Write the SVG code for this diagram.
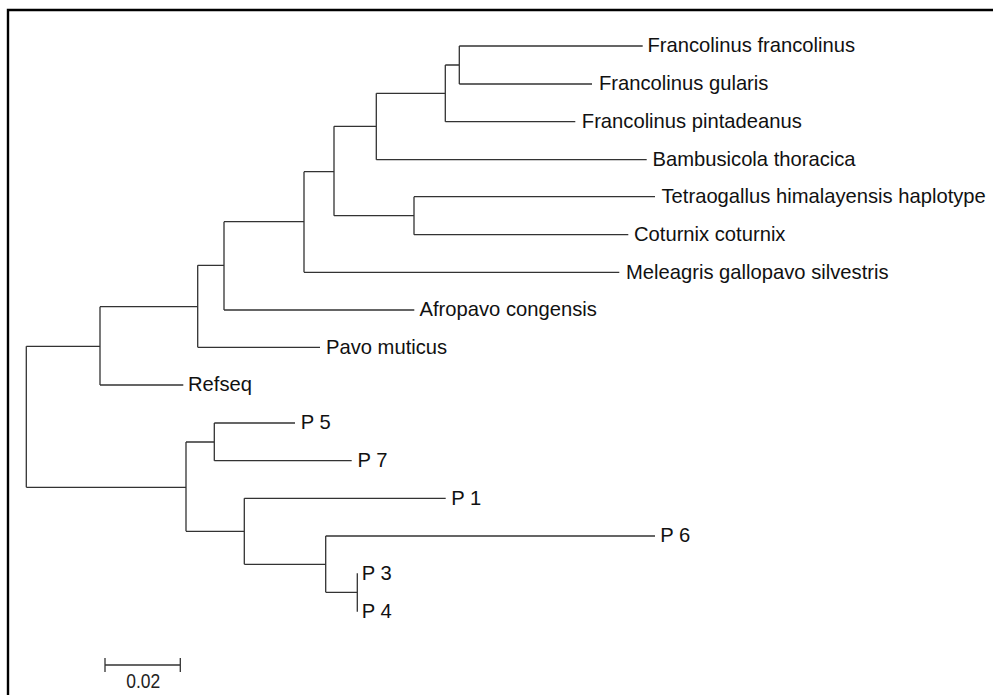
<svg xmlns="http://www.w3.org/2000/svg" width="993" height="695" viewBox="0 0 993 695">
<style>
.br{fill:none;stroke:#333;stroke-width:1.3}
.lb{font-family:"Liberation Sans",Arial,sans-serif;font-size:20.2px;fill:#111}
.sc{font-family:"Liberation Sans",Arial,sans-serif;font-size:19.5px;fill:#222}
</style>
<rect x="0" y="0" width="993" height="695" fill="#fff"/>
<path d="M8,695 V10 H993" fill="none" stroke="#000" stroke-width="2.4"/>
<g id="connectors" class="br">
<path d="M26.3,346.3 V487.3"/>
<path d="M26.3,346.3 H100 M100,306.7 V385 M100,385 H183.3"/>
<path d="M100,306.7 H197.7 M197.7,265.3 V347.3 M197.7,347.3 H320"/>
<path d="M197.7,265.3 H224 M224,221.7 V310 M224,310 H414.3"/>
<path d="M224,221.7 H304 M304,171.7 V272.3 M304,272.3 H619.3"/>
<path d="M304,171.7 H334 M334,126.3 V215.7"/>
<path d="M334,215.7 H414 M414,196.7 V234.7 M414,196.7 H655 M414,234.7 H628.3"/>
<path d="M334,126.3 H376.3 M376.3,93.3 V159.7 M376.3,159.7 H646.7"/>
<path d="M376.3,93.3 H445.3 M445.3,65 V121.7 M445.3,121.7 H575.3"/>
<path d="M445.3,65 H459.3 M459.3,46 V84 M459.3,46 H642.7 M459.3,84 H592"/>
<path d="M26.3,487.3 H186 M186,442 V531.3"/>
<path d="M186,442 H214.3 M214.3,423 V460.7 M214.3,423 H295 M214.3,460.7 H351.7"/>
<path d="M186,531.3 H244.3 M244.3,498.3 V564.3 M244.3,498.3 H445.7"/>
<path d="M244.3,564.3 H325.7 M325.7,536 V592.3 M325.7,536 H655"/>
<path d="M325.7,592.3 H357.3 M357.3,573.3 V611.7"/>
</g>
<g id="leaf-francolinus-francolinus"><text class="lb" x="647.5" y="52">Francolinus francolinus</text></g>
<g id="leaf-francolinus-gularis"><text class="lb" x="599" y="90">Francolinus gularis</text></g>
<g id="leaf-francolinus-pintadeanus"><text class="lb" x="581.8" y="128">Francolinus pintadeanus</text></g>
<g id="leaf-bambusicola"><text class="lb" x="652.5" y="166">Bambusicola thoracica</text></g>
<g id="leaf-tetraogallus"><text class="lb" x="661.5" y="203">Tetraogallus himalayensis haplotype</text></g>
<g id="leaf-coturnix"><text class="lb" x="634" y="241">Coturnix coturnix</text></g>
<g id="leaf-meleagris"><text class="lb" x="626" y="278.5">Meleagris gallopavo silvestris</text></g>
<g id="leaf-afropavo"><text class="lb" x="419.5" y="316.3">Afropavo congensis</text></g>
<g id="leaf-pavo"><text class="lb" x="326" y="353.5">Pavo muticus</text></g>
<g id="leaf-refseq"><text class="lb" x="188" y="391.3">Refseq</text></g>
<g id="leaf-p5"><text class="lb" x="300.8" y="429.3">P 5</text></g>
<g id="leaf-p7"><text class="lb" x="357.5" y="467">P 7</text></g>
<g id="leaf-p1"><text class="lb" x="451.2" y="504.5">P 1</text></g>
<g id="leaf-p6"><text class="lb" x="660.2" y="542.3">P 6</text></g>
<g id="leaf-p3"><text class="lb" x="361.8" y="579.5">P 3</text></g>
<g id="leaf-p4"><text class="lb" x="361.8" y="617.5">P 4</text></g>
<g id="scale-bar">
<path class="br" d="M105,665 H180.3 M105,658 V672 M180.3,658 V672"/>
<text class="sc" x="143.3" y="687.7" text-anchor="middle" textLength="34" lengthAdjust="spacingAndGlyphs">0.02</text>
</g>
</svg>
